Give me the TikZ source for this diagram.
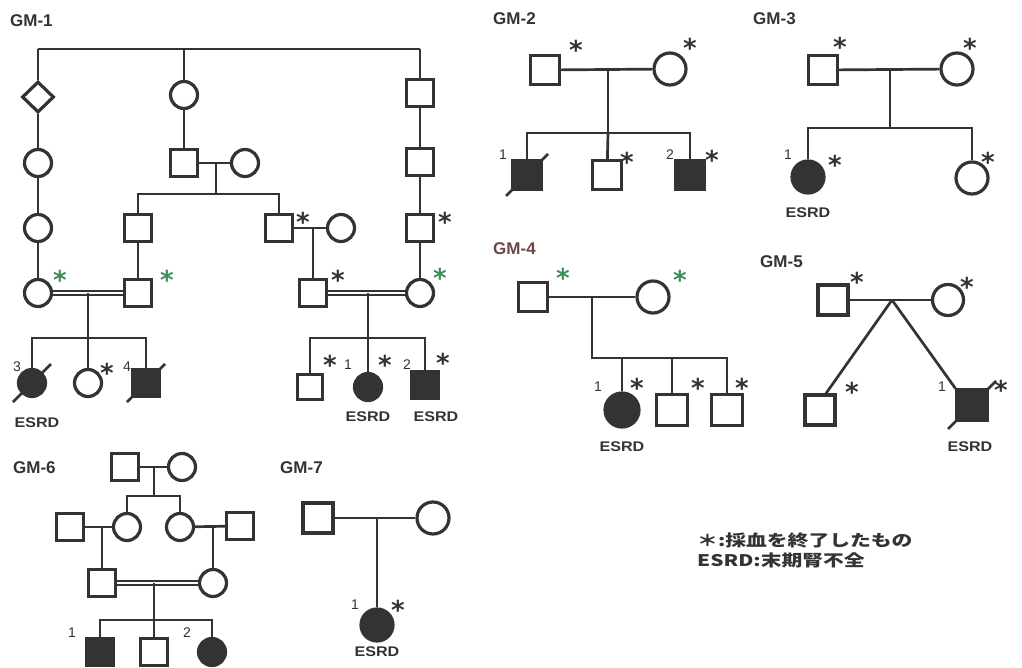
\documentclass[tikz,border=0pt]{standalone}
\usepackage{fontspec}
\setmainfont{Liberation Sans}
\newfontfamily\astfont{DejaVu Sans}
\newfontfamily\widesans[FakeStretch=1.15]{Liberation Sans}
\newfontfamily\jpfont[FakeStretch=1.3]{Noto Sans CJK JP}
\usetikzlibrary{shapes.geometric,calc}
\definecolor{ink}{HTML}{333333}
\definecolor{mark}{HTML}{3E8C58}
\definecolor{rust}{HTML}{6E4646}
\tikzset{
  ln/.style={draw=ink, line width=2.7pt},
  cons/.style={draw=ink, double=white, double distance=2.4pt, line width=2.2pt},
  male/.style={rectangle, draw=ink, line width=3.2pt, fill=white, minimum size=#1, inner sep=0pt},
  male/.default=27pt,
  fem/.style={circle, draw=ink, line width=3.2pt, fill=white, minimum size=#1, inner sep=0pt},
  fem/.default=27pt,
  amale/.style={male=#1, fill=ink},
  amale/.default=27pt,
  afem/.style={fem=#1, fill=ink},
  afem/.default=27pt,
  unk/.style={diamond, draw=ink, line width=3.2pt, fill=white, minimum width=32pt, minimum height=31pt, inner sep=0pt},
  ast/.style={font=\astfont\bfseries\fontsize{26}{26}\selectfont, text=ink, inner sep=0pt},
  gast/.style={ast, text=mark},
  num/.style={font=\fontsize{14}{14}\selectfont, text=ink, inner sep=0pt},
  esrd/.style={font=\widesans\bfseries\fontsize{14}{14}\selectfont, text=ink, inner sep=0pt},
  title/.style={font=\bfseries\fontsize{17}{17}\selectfont, text=ink, inner sep=0pt, anchor=west},
  legend/.style={font=\jpfont\bfseries\fontsize{16}{16}\selectfont, text=ink, inner sep=0pt, anchor=west},
}
% deceased mark: a slash through the symbol
\newcommand\deadslash[2][20]{\draw[ln] ($(#2)+(-#1,#1)$) -- ($(#2)+(#1,-#1)$);}
\begin{document}
\begin{tikzpicture}[x=1pt,y=-1pt]
\useasboundingbox (0,0) rectangle (1022,668);
\clip (0,0) rectangle (1022,668);

% ---------------- GM-1 ----------------
\node[title] (t1) at (10,21) {GM-1};
\node[unk] (a1) at (38,97) {};
\node[fem] (a2) at (38,163) {};
\node[fem] (a3) at (38,228) {};
\node[fem] (a4) at (38,293) {};
\node[fem] (b1) at (184,95) {};
\node[male] (b2) at (184,163) {};
\node[fem] (b2w) at (245,163) {};
\node[male] (b3) at (138,228) {};
\node[male] (b3r) at (279,228) {};
\node[fem] (b3w) at (341,228) {};
\node[male] (b4) at (138,293) {};
\node[male] (c1) at (420,93) {};
\node[male] (c2) at (420,162) {};
\node[male] (c3) at (420,228) {};
\node[fem] (c4) at (420,293) {};
\node[male] (c4m) at (313,293) {};
\node[afem] (d1) at (32,383) {};
\node[fem] (d2) at (88,383) {};
\node[amale] (d3) at (146,383) {};
\node[male=25pt] (e1) at (310,387) {};
\node[afem] (e2) at (368,387) {};
\node[amale] (e3) at (425,385) {};

\coordinate (k1) at (38,49);
\coordinate (k2) at (184,49);
\coordinate (k3) at (420,49);
\draw[ln] (k1) -- (k3);
\draw[ln] (k1) -- (a1) -- (a2) -- (a3) -- (a4);
\draw[ln] (k2) -- (b1) -- (b2);
\draw[ln] (k3) -- (c1) -- (c2) -- (c3) -- (c4);
\draw[ln] (b2) -- (b2w);
\coordinate (m1) at (216,163);
\coordinate (s1) at (216,194);
\coordinate (s1l) at (138,194);
\coordinate (s1r) at (279,194);
\draw[ln] (m1) -- (s1);
\draw[ln] (b3) -- (s1l) -- (s1r) -- (b3r);
\draw[ln] (b3) -- (b4);
\draw[ln] (b3r) -- (b3w);
\coordinate (m2) at (313,228);
\draw[ln] (m2) -- (c4m);
\draw[cons] (a4) -- (b4);
\draw[cons] (c4m) -- (c4);
\coordinate (m3) at (88,293);
\coordinate (s3) at (88,338);
\coordinate (s3l) at (32,338);
\coordinate (s3r) at (146,338);
\draw[ln] (m3) -- (s3);
\draw[ln] (d1) -- (s3l) -- (s3r) -- (d3);
\draw[ln] (s3) -- (d2);
\coordinate (m4) at (368,293);
\coordinate (s4) at (368,338);
\coordinate (s4l) at (310,338);
\coordinate (s4r) at (425,338);
\draw[ln] (m4) -- (s4);
\draw[ln] (e1) -- (s4l) -- (s4r) -- (e3);
\draw[ln] (s4) -- (e2);
\deadslash[19]{d1}
\deadslash[19]{d3}

\node[gast] (x1) at (60,280) {*};
\node[gast] (x2) at (167,280) {*};
\node[ast] (x3) at (303,222) {*};
\node[ast] (x4) at (445,222) {*};
\node[ast] (x5) at (338,280) {*};
\node[gast] (x6) at (440,278) {*};
\node[ast] (x7) at (107,373) {*};
\node[ast] (x8) at (330,365) {*};
\node[ast] (x9) at (385,365) {*};
\node[ast] (x10) at (443,363) {*};
\node[num] (n1) at (17,367) {3};
\node[num] (n2) at (127,367) {4};
\node[num] (n3) at (348,365) {1};
\node[num] (n4) at (407,365) {2};
\node[esrd] (r1) at (37,423) {ESRD};
\node[esrd] (r2) at (368,417) {ESRD};
\node[esrd] (r3) at (436,417) {ESRD};

% ---------------- GM-2 ----------------
\node[title] (t2) at (493,19) {GM-2};
\node[male=29pt] (p2) at (545,70) {};
\node[fem=32pt] (q2) at (670,69) {};
\node[amale=29pt] (u1) at (527,175) {};
\node[male=29pt] (u2) at (607,175) {};
\node[amale=29pt] (u3) at (690,175) {};
\draw[ln] (p2) -- (q2);
\coordinate (m5) at (608,70);
\coordinate (s5) at (608,133);
\coordinate (s5l) at (527,133);
\coordinate (s5r) at (690,133);
\draw[ln] (m5) -- (s5);
\draw[ln] (u1) -- (s5l) -- (s5r) -- (u3);
\draw[ln] (s5) -- (u2);
\deadslash[21]{u1}
\node[ast] (x11) at (576,50) {*};
\node[ast] (x12) at (690,48) {*};
\node[ast] (x13) at (627,162) {*};
\node[ast] (x14) at (712,160) {*};
\node[num] (n5) at (503,155) {1};
\node[num] (n6) at (670,155) {2};

% ---------------- GM-3 ----------------
\node[title] (t3) at (753,19) {GM-3};
\node[male=29pt] (p3) at (823,70) {};
\node[fem=32pt] (q3) at (957,69) {};
\node[afem=32pt] (v1) at (808,177) {};
\node[fem=32pt] (v2) at (972,178) {};
\draw[ln] (p3) -- (q3);
\coordinate (m6) at (890,70);
\coordinate (s6) at (890,128);
\coordinate (s6l) at (808,128);
\coordinate (s6r) at (972,128);
\draw[ln] (m6) -- (s6);
\draw[ln] (v1) -- (s6l) -- (s6r) -- (v2);
\node[ast] (x15) at (840,47) {*};
\node[ast] (x16) at (970,48) {*};
\node[ast] (x17) at (835,165) {*};
\node[ast] (x18) at (988,162) {*};
\node[num] (n7) at (788,155) {1};
\node[esrd] (r4) at (808,213) {ESRD};

% ---------------- GM-4 ----------------
\node[title, text=rust] (t4) at (493,249) {GM-4};
\node[male=29pt] (p4) at (533,297) {};
\node[fem=32pt] (q4) at (653,297) {};
\node[afem=34pt] (w1) at (622,410) {};
\node[male=31pt] (w2) at (672,410) {};
\node[male=31pt] (w3) at (727,410) {};
\draw[ln] (p4) -- (q4);
\coordinate (m7) at (592,297);
\coordinate (s7) at (592,358);
\coordinate (s7a) at (622,358);
\coordinate (s7b) at (672,358);
\coordinate (s7r) at (727,358);
\draw[ln] (m7) -- (s7) -- (s7r) -- (w3);
\draw[ln] (s7a) -- (w1);
\draw[ln] (s7b) -- (w2);
\node[gast] (x19) at (563,278) {*};
\node[gast] (x20) at (680,280) {*};
\node[ast] (x21) at (637,388) {*};
\node[ast] (x22) at (698,388) {*};
\node[ast] (x23) at (742,388) {*};
\node[num] (n8) at (598,387) {1};
\node[esrd] (r5) at (622,447) {ESRD};

% ---------------- GM-5 ----------------
\node[title] (t5) at (760,262) {GM-5};
\node[male=30pt] (p5) at (833,300) {};
\node[fem=31pt] (q5) at (948,300) {};
\node[male=30pt] (z1) at (820,410) {};
\node[amale=30pt] (z2) at (972,405) {};
\draw[ln] (p5) -- (q5);
\coordinate (m8) at (892,300);
\draw[ln] (m8) -- ($(z1.north)+(6,0)$);
\draw[ln] (m8) -- (z2.north west);
\deadslash[24]{z2}
\node[ast] (x24) at (857,282) {*};
\node[ast] (x25) at (967,287) {*};
\node[ast] (x26) at (852,392) {*};
\node[ast] (x27) at (1001,390) {*};
\node[num] (n9) at (942,387) {1};
\node[esrd] (r6) at (970,447) {ESRD};

% ---------------- GM-6 ----------------
\node[title] (t6) at (13,468) {GM-6};
\node[male] (g1) at (125,467) {};
\node[fem] (g2) at (182,467) {};
\node[male] (h1) at (70,527) {};
\node[fem] (h2) at (127,527) {};
\node[fem] (h3) at (180,527) {};
\node[male] (h4) at (240,526) {};
\node[male] (i1) at (102,583) {};
\node[fem] (i2) at (213,583) {};
\node[amale] (j1) at (100,652) {};
\node[male] (j2) at (154,652) {};
\node[afem] (j3) at (212,652) {};
\draw[ln] (g1) -- (g2);
\coordinate (m9) at (154,467);
\coordinate (s9) at (154,496);
\coordinate (s9l) at (127,496);
\coordinate (s9r) at (180,496);
\draw[ln] (m9) -- (s9);
\draw[ln] (h2) -- (s9l) -- (s9r) -- (h3);
\draw[ln] (h1) -- (h2);
\draw[ln] (h3) -- (h4);
\coordinate (m10) at (102,527);
\coordinate (m11) at (213,527);
\draw[ln] (m10) -- (i1);
\draw[ln] (m11) -- (i2);
\draw[cons] (i1) -- (i2);
\coordinate (m12) at (154,583);
\coordinate (s12) at (154,620);
\coordinate (s12l) at (100,620);
\coordinate (s12r) at (212,620);
\draw[ln] (m12) -- (s12);
\draw[ln] (j1) -- (s12l) -- (s12r) -- (j3);
\draw[ln] (s12) -- (j2);
\node[num] (n10) at (72,633) {1};
\node[num] (n11) at (187,633) {2};

% ---------------- GM-7 ----------------
\node[title] (t7) at (280,468) {GM-7};
\node[male=30pt] (p7) at (318,518) {};
\node[fem=32pt] (q7) at (433,518) {};
\node[afem=32pt] (y1) at (377,625) {};
\draw[ln] (p7) -- (q7);
\coordinate (m13) at (377,518);
\draw[ln] (m13) -- (y1);
\node[ast] (x28) at (398,610) {*};
\node[num] (n12) at (355,605) {1};
\node[esrd] (r7) at (377,652) {ESRD};

% ---------------- legend ----------------
\node[legend] (l1) at (697,541) {＊:採血を終了したもの};
\node[legend] (l2) at (697,560) {ESRD:末期腎不全};
\end{tikzpicture}
\end{document}
